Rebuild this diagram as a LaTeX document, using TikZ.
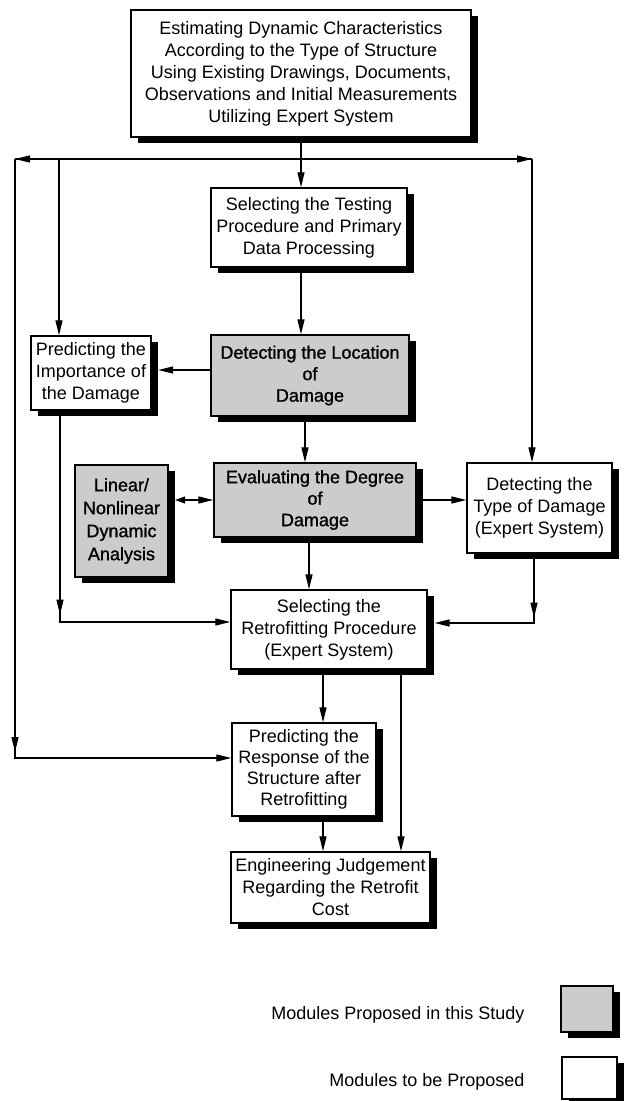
\documentclass[tikz,border=0pt]{standalone}
\usepackage{fontspec}
\setmainfont{Liberation Sans}
\newfontfamily\heavyfont[FakeBold=1.2]{Liberation Sans}
\usetikzlibrary{arrows.meta,shadows,decorations.markings}
\begin{document}
\begin{tikzpicture}[x=1pt,y=-1pt,
  txt/.style={font=\fontsize{18}{22}\selectfont},
  box/.style={txt, draw=black, line width=1.3pt, fill=white, align=center, inner sep=0pt,
    general shadow={fill=black, shadow xshift=6.5pt, shadow yshift=-6pt}},
  gbox/.style={box, fill=black!20, font=\heavyfont\fontsize{18}{21.5}\selectfont},
  conn/.style={line width=1.2pt},
  tip/.tip={Triangle[length=15pt,width=7pt]},
  arr/.style={conn, -tip},
  both/.style={conn, {Triangle[length=10pt,width=7pt]}-tip},
  tipat/.style={postaction={decorate}, decoration={markings,
    mark=at position #1 with {\arrow{tip}}}}]

\fill[white] (0,0) rectangle (625,1101);
\useasboundingbox (0,0) rectangle (625,1101);

% modules
\node[box, minimum width=340pt, minimum height=127pt] (top) at (301,73.5)
  {Estimating Dynamic Characteristics\\According to the Type of Structure\\Using Existing Drawings, Documents,\\Observations and Initial Measurements\\Utilizing Expert System};
\node[box, minimum width=196pt, minimum height=79pt] (sel) at (309,227.5)
  {Selecting the Testing\\Procedure and Primary\\Data Processing};
\node[box, minimum width=120pt, minimum height=74pt] (imp) at (91,373)
  {Predicting the\\Importance of\\the Damage};
\node[gbox, minimum width=198pt, minimum height=81pt] (loc) at (310,375.5)
  {Detecting the Location\\of\\Damage};
\node[gbox, minimum width=93pt, minimum height=112pt, font=\heavyfont\fontsize{18}{23}\selectfont] (lin) at (121.5,521)
  {Linear/\\Nonlinear\\Dynamic\\Analysis};
\node[gbox, minimum width=202pt, minimum height=74pt] (eva) at (315,500)
  {Evaluating the Degree\\of\\Damage};
\node[box, minimum width=145pt, minimum height=90pt] (typ) at (539.5,508)
  {Detecting the\\Type of Damage\\(Expert System)};
\node[box, minimum width=196pt, minimum height=79pt] (ret) at (329,629.5)
  {Selecting the\\Retrofitting Procedure\\(Expert System)};
\node[box, minimum width=144pt, minimum height=93pt, font=\fontsize{18}{21}\selectfont] (res) at (304,769.5)
  {Predicting the\\Response of the\\Structure after\\Retrofitting};
\node[box, minimum width=199pt, minimum height=71pt] (eng) at (330.5,887.5)
  {Engineering Judgement\\Regarding the Retrofit\\Cost};

% distribution line below the first module
\coordinate (bus)  at (301,159);
\coordinate (busL) at (15,159);
\coordinate (busI) at (59,159);
\coordinate (busR) at (532,159);
\draw[conn] (busL) -- (busR);
\draw[arr] (bus) -- (busL);
\draw[arr] (bus) -- (busR);
\draw[conn] (top.south) -- (bus);
\draw[arr] (bus) -- (bus |- sel.north);
\draw[arr] (busI) -- (busI |- imp.north);
\draw[arr] (busR) -- (busR |- typ.north);
\draw[arr, tipat=593pt] (busL) |- ([yshift=11.5pt]res.west);

% central chain
\draw[arr] (bus |- sel.south) -- (bus |- loc.north);
\draw[arr, shorten >=6.5pt] ([yshift=5.5pt]loc.west) -- ([yshift=5.5pt]loc.west -| imp.east);
\draw[arr] ([xshift=-5pt]loc.south) -- ([xshift=-5pt]loc.south |- eva.north);
\draw[both, shorten <=6.5pt] (lin.east |- eva.west) -- (eva.west);
\draw[arr, shorten <=6.5pt] (eva.east) -- (eva.east -| typ.west);
\draw[arr] ([xshift=-1pt]eva.south -| loc.south) -- ([xshift=-1pt]loc.south |- ret.north);

% collecting into the retrofitting module
\draw[arr, tipat=204pt] ([xshift=-31pt]imp.south) |- ([yshift=7.5pt]ret.west);
\draw[arr, tipat=64pt, shorten >=7pt] ([xshift=-5.5pt]typ.south) |- ([yshift=6.5pt]ret.east);

% lower part
\draw[arr] ([xshift=-6pt]ret.south) -- ([xshift=-6pt]ret.south |- res.north);
\draw[arr] ([xshift=72pt]ret.south) -- ([xshift=72pt]ret.south |- eng.north);
\draw[arr] ([xshift=19pt]res.south) -- ([xshift=19pt]res.south |- eng.north);

% legend
\node[gbox, minimum width=52pt, minimum height=46pt] (lg) at (587,1009) {};
\node[txt, anchor=east] (lgt) at (528,1015) {Modules Proposed in this Study};
\node[box, minimum width=55pt, minimum height=42pt] (lw) at (589.5,1078) {};
\node[txt, anchor=east] (lwt) at (528,1082) {Modules to be Proposed};
\end{tikzpicture}
\end{document}
